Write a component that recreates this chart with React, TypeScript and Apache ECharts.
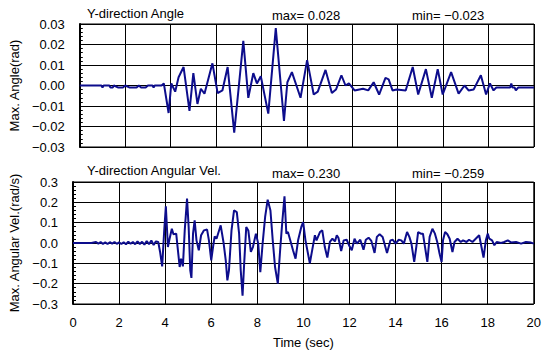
import React, { useEffect, useRef } from "react";
import * as echarts from "echarts";

// Top: Y-direction angle (rad)
const angleTime = [
  0, 0.95, 1.0, 1.05, 1.3, 1.35, 1.45, 1.5, 1.7, 1.9, 2.0, 2.2, 2.5, 2.6, 2.7, 2.9, 3.0, 3.2, 3.25, 3.3, 3.6,
  3.7, 3.91, 4.03, 4.2, 4.35, 4.57, 4.83, 5.0, 5.18, 5.33, 5.49, 5.84, 6.07, 6.28, 6.51, 6.8, 7.2, 7.42, 7.64,
  7.8, 7.97, 8.3, 8.63, 8.99, 9.14, 9.34, 9.72, 10.01, 10.3, 10.48, 10.82, 11.1, 11.28, 11.52, 11.7, 11.85,
  12.1, 12.47, 12.7, 12.94, 13.18, 13.46, 13.6, 13.77, 13.95, 14.35, 14.66, 14.9, 15.24, 15.5, 15.76, 15.98,
  16.35, 16.68, 16.94, 17.12, 17.34, 17.66, 17.89, 18.06, 18.22, 18.34, 18.95, 19.0, 19.05, 19.15, 19.2, 19.3, 20,
];
const angleVal = [
  0, 0, -0.001, 0, 0, -0.001, -0.001, 0, -0.001, -0.001, 0, -0.001, -0.001, 0, -0.001, -0.001, 0, 0, -0.001, 0, 0,
  0.001, -0.0134, 0.001, -0.003, 0.004, 0.009, -0.0124, 0.006, -0.009, -0.0016, -0.004, 0.0108, -0.0037, -0.0024,
  0.009, -0.023, 0.0218, -0.006, 0.006, 0.001, 0.0045, -0.0137, 0.028, -0.0173, 0.0016, 0.0065, -0.006, 0.0124,
  -0.0044, -0.003, 0.0076, -0.0037, -0.002, 0.005, 0, 0.001, -0.0024, -0.0016, -0.0024, 0.0016, -0.0044, 0.0037,
  0.003, -0.0024, -0.002, -0.0024, 0.009, -0.0044, 0.008, -0.006, 0.008, -0.0044, 0.0065, -0.004, 0, -0.0024,
  -0.002, 0.005, -0.0044, 0.001, -0.0024, -0.001, -0.001, 0.001, -0.001, -0.001, -0.0024, -0.001, -0.001,
];

// Bottom: Y-direction angular velocity (rad/s)
const velTime = [
  0, 0.8, 1.0, 1.1, 1.2, 1.3, 1.4, 1.5, 1.6, 1.7, 1.8, 1.9, 2.0, 2.1, 2.2, 2.3, 2.4, 2.5, 2.6, 2.7, 2.8, 2.9, 3.0,
  3.1, 3.2, 3.3, 3.4, 3.5, 3.6, 3.7, 3.78, 3.87, 3.96, 4.03, 4.12, 4.19, 4.29, 4.36, 4.48, 4.54, 4.63, 4.69, 4.77,
  4.85, 4.95, 5.02, 5.09, 5.14, 5.21, 5.28, 5.36, 5.46, 5.56, 5.68, 5.82, 5.9, 6.0, 6.09, 6.15, 6.23, 6.41, 6.53,
  6.63, 6.7, 6.77, 6.88, 6.99, 7.11, 7.21, 7.28, 7.36, 7.43, 7.52, 7.61, 7.72, 7.81, 7.94, 8.04, 8.13, 8.23, 8.34,
  8.45, 8.57, 8.67, 8.77, 8.89, 9.0, 9.09, 9.18, 9.26, 9.33, 9.43, 9.55, 9.66, 9.77, 9.91, 9.99, 10.09, 10.28,
  10.38, 10.5, 10.57, 10.72, 10.82, 10.93, 11.04, 11.15, 11.26, 11.37, 11.45, 11.52, 11.64, 11.75, 11.88, 11.98,
  12.1, 12.22, 12.32, 12.47, 12.61, 12.71, 12.83, 12.95, 13.09, 13.19, 13.31, 13.44, 13.63, 13.78, 13.88, 14.0,
  14.14, 14.25, 14.36, 14.5, 14.6, 14.69, 14.81, 14.9, 14.98, 15.1, 15.19, 15.28, 15.38, 15.48, 15.6, 15.71,
  15.81, 15.91, 16.0, 16.06, 16.15, 16.25, 16.35, 16.47, 16.56, 16.69, 16.83, 16.93, 17.08, 17.19, 17.34, 17.48,
  17.63, 17.73, 17.82, 17.92, 18.0, 18.07, 18.19, 18.29, 18.39, 18.58, 18.72, 18.87, 19.01, 19.23, 19.45, 19.66,
  19.88, 20,
];
const velVal = [
  0, 0, 0.005, -0.003, 0.004, -0.004, 0.003, -0.005, 0.004, -0.003, 0.005, -0.004, 0.003, -0.005, 0.004, -0.006,
  0.006, -0.004, 0.005, -0.006, 0.008, -0.005, 0.006, -0.008, 0.01, -0.006, 0.012, -0.01, 0.008, 0.005, -0.044,
  -0.115, 0.062, 0.18, -0.02, 0.02, 0.07, 0.043, 0.046, -0.02, -0.118, -0.077, -0.115, 0.062, 0.218, 0.079, -0.134,
  -0.172, 0.046, 0.111, 0.013, -0.036, 0.038, 0.062, 0.066, 0.013, -0.085, -0.011, 0.033, 0.021, 0.087, 0.005,
  -0.085, -0.184, -0.134, 0.062, 0.16, 0.152, 0.046, -0.134, -0.259, -0.1, 0.079, 0.062, -0.044, -0.02, 0.046,
  -0.003, -0.143, -0.003, 0.128, 0.213, 0.16, 0.013, -0.118, -0.2, -0.02, 0.111, 0.23, 0.046, 0.054, 0.013, -0.036,
  -0.077, 0.013, 0.079, 0.103, 0.013, -0.1, -0.036, 0.038, 0.013, 0.054, 0.062, -0.02, -0.072, 0.005, 0.021, 0.008,
  0.038, 0.026, -0.039, 0.013, 0.016, -0.011, -0.036, 0.021, -0.003, 0.016, -0.033, 0.016, 0.026, 0.01, -0.049,
  0.03, 0.043, 0.03, -0.049, 0.013, 0.016, -0.003, 0.016, 0.013, -0.003, 0.054, 0.03, -0.003, -0.093, -0.02, 0.054,
  0.046, 0.046, -0.02, -0.093, 0.03, 0.07, 0.046, 0.005, -0.052, -0.093, 0.013, 0.054, 0.043, 0.021, -0.044, 0.005,
  0.021, 0.005, 0.013, 0.005, 0.016, 0.005, 0.021, 0.038, -0.02, -0.072, 0.013, 0.046, 0.021, 0.013, -0.011, 0.005,
  0, 0.005, 0.013, 0.003, 0.005, -0.003, 0.005, 0.002, -0.003,
];

const xTicks = [0, 2, 4, 6, 8, 10, 12, 14, 16, 18, 20];
const titles = ["Y-direction Angle", "Y-direction Angular Vel."];
const maxTexts = ["max= 0.028", "max= 0.230"];
const minTexts = ["min= \u22120.023", "min= \u22120.259"];
const yNames = ["Max. Angle(rad)", "Max. Angular Vel.(rad/s)"];

const FONT = "'Liberation Sans', Arial, sans-serif";
const LINE = "#0d0d8c";

export default function App() {
  const ref = useRef<HTMLDivElement>(null);
  useEffect(() => {
    if (!ref.current) return;
    const chart = echarts.init(ref.current, undefined, { renderer: "svg" });
    const fmt = (d: number) => (v: number) => {
      const s = Math.abs(v) < 1e-9 ? (0).toFixed(d) : v.toFixed(d);
      return s.replace("-", "\u2212");
    };
    const yAxisCommon = {
      type: "value" as const,
      axisLine: { show: true, lineStyle: { color: "#000", width: 2 } },
      axisTick: { show: true, inside: true, length: 4, lineStyle: { color: "#000" } },
      minorTick: { show: true, splitNumber: 5, length: 3, lineStyle: { color: "#000" } },
      splitLine: { show: true, lineStyle: { color: "#000", width: 1 } },
      axisLabel: { color: "#000", fontSize: 13, fontFamily: FONT, margin: 15 },
      nameLocation: "middle" as const,
      nameRotate: 90,
      nameTextStyle: { color: "#000", fontSize: 13, fontFamily: FONT },
    };
    const xAxisCommon = {
      type: "value" as const,
      min: 0,
      max: 20,
      interval: 2,
      axisLine: { show: true, lineStyle: { color: "#000", width: 1 } },
      axisTick: { show: false },
      splitLine: { show: true, lineStyle: { color: "#000", width: 1 } },
    };
    const mkText = (text: string, x: number, y: number, size: number) => ({
      type: "text",
      x,
      y,
      style: { text, fill: "#000", font: `${size}px ${FONT}`, textVerticalAlign: "middle" },
    });
    chart.setOption({
      animation: false,
      backgroundColor: "#fff",
      grid: [
        { left: 79, top: 24, width: 455, height: 123, show: true, borderColor: "#000", borderWidth: 1, backgroundColor: "transparent" },
        { left: 73, top: 182, width: 461, height: 122, show: true, borderColor: "#000", borderWidth: 1, backgroundColor: "transparent" },
      ],
      xAxis: [
        { ...xAxisCommon, gridIndex: 0, axisLabel: { show: false } },
        {
          ...xAxisCommon,
          gridIndex: 1,
          axisLabel: {
            show: true, color: "#000", fontSize: 13, fontFamily: FONT, margin: 12,
            customValues: xTicks,
          },
          name: "Time (sec)",
          nameLocation: "middle",
          nameGap: 32,
          nameTextStyle: { color: "#000", fontSize: 13, fontFamily: FONT },
        },
      ],
      yAxis: [
        {
          ...yAxisCommon,
          gridIndex: 0,
          min: -0.03,
          max: 0.03,
          interval: 0.01,
          axisLabel: { ...yAxisCommon.axisLabel, formatter: fmt(2) },
          name: yNames[0],
          nameGap: 54,
        },
        {
          ...yAxisCommon,
          gridIndex: 1,
          min: -0.3,
          max: 0.3,
          interval: 0.1,
          axisLabel: { ...yAxisCommon.axisLabel, formatter: fmt(1) },
          name: yNames[1],
          nameGap: 44,
        },
      ],
      series: [
        {
          type: "line",
          xAxisIndex: 0,
          yAxisIndex: 0,
          data: angleTime.map((t, i) => [t, angleVal[i]]),
          showSymbol: false,
          lineStyle: { color: LINE, width: 2 },
        },
        {
          type: "line",
          xAxisIndex: 1,
          yAxisIndex: 1,
          data: velTime.map((t, i) => [t, velVal[i]]),
          showSymbol: false,
          lineStyle: { color: LINE, width: 2 },
        },
      ],
      graphic: [
        mkText(titles[0], 87, 13, 13),
        mkText(maxTexts[0], 272, 15, 13),
        mkText(minTexts[0], 412, 15, 13),
        mkText(titles[1], 87, 170, 13),
        mkText(maxTexts[1], 272, 173, 13),
        mkText(minTexts[1], 412, 173, 13),
      ],
    });
    return () => chart.dispose();
  }, []);
  return <div ref={ref} style={{ width: 544, height: 351, position: "absolute", left: 0, top: 0 }} />;
}
